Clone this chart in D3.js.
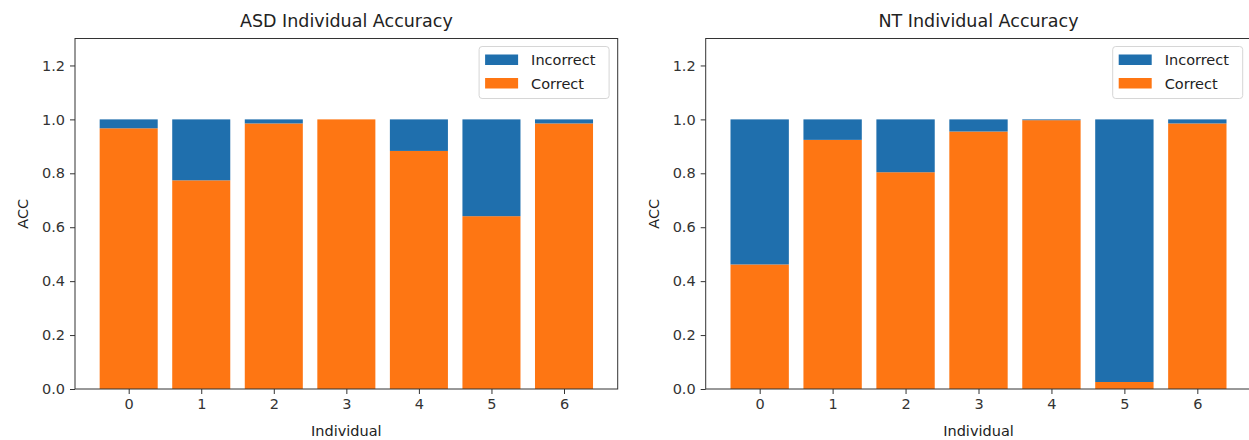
<!DOCTYPE html>
<html>
<head>
<meta charset="utf-8">
<script src="https://cdn.jsdelivr.net/npm/d3@7"></script>
<style>
  body { margin: 0; background: #fff; }
  svg { display: block; font-family: "DejaVu Sans", sans-serif; }
  .tick text { fill: #333; }
</style>
</head>
<body>
<svg id="chart" width="1249" height="440"></svg>
<script>
// individuals on the x axis
var individuals = [0, 1, 2, 3, 4, 5, 6];

// ASD panel
var asdCorrect   = [0.967, 0.774, 0.985, 1.000, 0.883, 0.641, 0.985];
var asdIncorrect = [0.033, 0.226, 0.015, 0.000, 0.117, 0.359, 0.015];

// NT panel
var ntCorrect   = [0.462, 0.924, 0.804, 0.955, 0.997, 0.026, 0.985];
var ntIncorrect = [0.538, 0.076, 0.196, 0.045, 0.003, 0.974, 0.015];

var yTicks = [0.0, 0.2, 0.4, 0.6, 0.8, 1.0, 1.2];
var legendLabels = ["Incorrect", "Correct"];

var blue = "#1f6fad", orange = "#fe7613";
var svg = d3.select("#chart");

function drawPanel(left, right, title, correct, incorrect) {
  var top = 38.5, bottom = 389;
  var w = right - left, h = bottom - top;

  var g = svg.append("g").attr("transform", "translate(" + left + "," + top + ")");

  var xScale = d3.scaleLinear().domain([-0.74, 6.74]).range([0, w]);
  var yScale = d3.scaleLinear().domain([0, 1.3]).range([h, 0]);
  var bw = xScale(0.8) - xScale(0);

  // Correct bars (bottom)
  g.selectAll(".correct")
    .data(individuals)
    .enter().append("rect")
    .attr("class", "correct")
    .attr("x", function(d) { return xScale(d - 0.4); })
    .attr("y", function(d, i) { return yScale(correct[i]); })
    .attr("width", bw)
    .attr("height", function(d, i) { return h - yScale(correct[i]); })
    .style("fill", orange);

  // Incorrect bars stacked on top
  g.selectAll(".incorrect")
    .data(individuals)
    .enter().append("rect")
    .attr("class", "incorrect")
    .attr("x", function(d) { return xScale(d - 0.4); })
    .attr("y", function(d, i) { return yScale(correct[i] + incorrect[i]); })
    .attr("width", bw)
    .attr("height", function(d, i) { return yScale(correct[i]) - yScale(correct[i] + incorrect[i]); })
    .style("fill", blue);

  // Axes
  var xAxis = g.append("g")
    .attr("transform", "translate(0," + h + ")")
    .call(d3.axisBottom(xScale).tickValues(individuals).tickFormat(d3.format("d")).tickSize(5).tickPadding(5));
  var yAxis = g.append("g")
    .call(d3.axisLeft(yScale).tickValues(yTicks).tickFormat(d3.format(".1f")).tickSize(5).tickPadding(5));

  [xAxis, yAxis].forEach(function(a) {
    a.select(".domain").remove();
    a.selectAll(".tick line").attr("stroke", "#333");
    a.selectAll(".tick text").style("font-size", "14.5px").style("font-family", "DejaVu Sans");
  });

  // Frame
  g.append("rect")
    .attr("width", w)
    .attr("height", h)
    .style("fill", "none")
    .style("stroke", "#333")
    .style("stroke-width", 1);

  // Title and labels
  g.append("text")
    .attr("x", w / 2)
    .attr("y", -12)
    .attr("text-anchor", "middle")
    .style("font-size", "17.5px")
    .style("fill", "#222")
    .text(title);

  g.append("text")
    .attr("x", w / 2)
    .attr("y", h + 47)
    .attr("text-anchor", "middle")
    .style("font-size", "14.5px")
    .style("fill", "#222")
    .text("Individual");

  g.append("text")
    .attr("transform", "translate(" + (-47) + "," + (h / 2) + ") rotate(-90)")
    .attr("text-anchor", "middle")
    .style("font-size", "14.5px")
    .style("fill", "#222")
    .text("ACC");

  // Legend
  var lw = 130, lh = 52;
  var legend = g.append("g").attr("transform", "translate(" + (w - 8.6 - lw) + ",8)");
  legend.append("rect")
    .attr("width", lw)
    .attr("height", lh)
    .attr("rx", 3)
    .style("fill", "#fff")
    .style("fill-opacity", 0.8)
    .style("stroke", "#d6d6d6");

  var items = legend.selectAll(".item")
    .data(legendLabels)
    .enter().append("g")
    .attr("class", "item")
    .attr("transform", function(d, i) { return "translate(6," + (8 + i * 23.5) + ")"; });

  items.append("rect")
    .attr("width", 33)
    .attr("height", 10.5)
    .style("fill", function(d, i) { return i === 0 ? blue : orange; });

  items.append("text")
    .attr("x", 46)
    .attr("y", 5.5)
    .attr("dy", "0.35em")
    .style("font-size", "14.5px")
    .style("fill", "#222")
    .text(function(d) { return d; });
}

drawPanel(75, 617.7, "ASD Individual Accuracy", asdCorrect, asdIncorrect);
drawPanel(705.7, 1251.3, "NT Individual Accuracy", ntCorrect, ntIncorrect);
</script>
</body>
</html>
